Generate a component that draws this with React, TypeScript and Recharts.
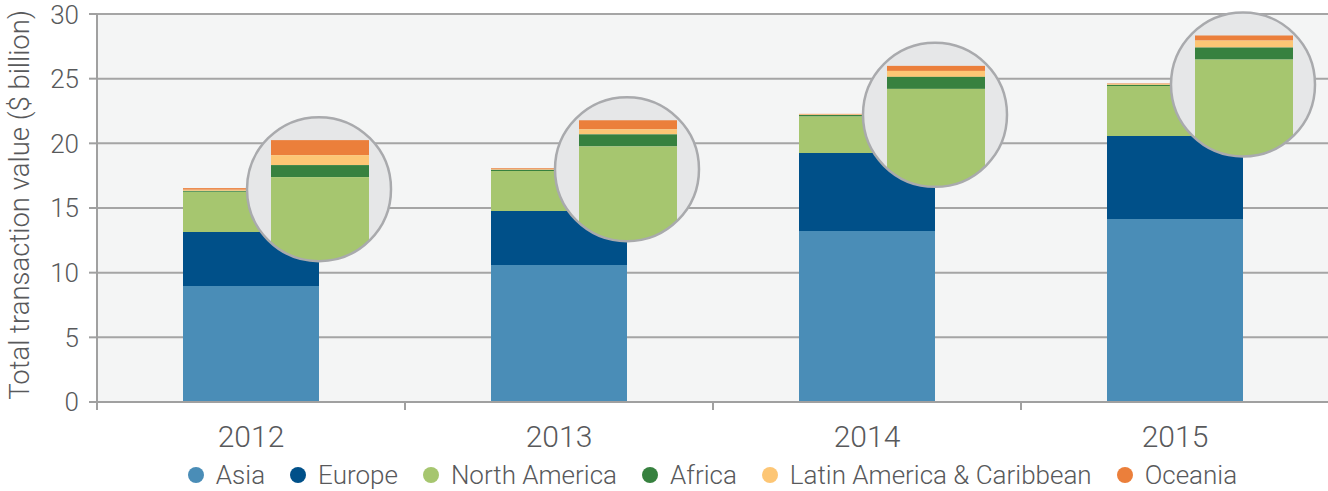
import React from "react";
import { BarChart, Bar, XAxis, YAxis, CartesianGrid, Legend } from "recharts";

const years = ["2012", "2013", "2014", "2015"];
const asia = [8.97, 10.6, 13.22, 14.15];
const europe = [4.18, 4.17, 6.04, 6.42];
const northAmerica = [3.1, 3.1, 2.84, 3.87];
const africa = [0.093, 0.093, 0.093, 0.093];
const latinAmerica = [0.077, 0.039, 0.046, 0.054];
const oceania = [0.116, 0.07, 0.039, 0.039];
const yTicks = [0, 5, 10, 15, 20, 25, 30];

const COLORS = {
  asia: "#4a8db7",
  europe: "#005089",
  na: "#a6c66f",
  africa: "#37813f",
  latin: "#fdc675",
  oceania: "#eb7f3b",
};

const seriesInfo = [
  { key: "asia", name: "Asia", color: COLORS.asia },
  { key: "europe", name: "Europe", color: COLORS.europe },
  { key: "na", name: "North America", color: COLORS.na },
  { key: "africa", name: "Africa", color: COLORS.africa },
  { key: "latin", name: "Latin America & Caribbean", color: COLORS.latin },
  { key: "oceania", name: "Oceania", color: COLORS.oceania },
];

const data = years.map((y, i) => ({
  year: y,
  asia: asia[i],
  europe: europe[i],
  na: northAmerica[i],
  africa: africa[i],
  latin: latinAmerica[i],
  oceania: oceania[i],
}));

const FONT = "Roboto, 'Liberation Sans', Arial, sans-serif";
const TEXT = "#58595b";
const MAG = 10;

const OceaniaShape = (props: any) => {
  const { x, y, width, height, payload, index } = props;
  const ppu = height / payload.oceania;
  const k = ppu * MAG;
  const cx = x + width / 2 + 68;
  const cy = y + 1;
  const r = 72;
  const mx = cx - 48;
  const mw = 98;
  const top = cy - 49;
  const hO = payload.oceania * k;
  const hL = payload.latin * k;
  const hA = payload.africa * k;
  const id = `mag-clip-${index}`;
  return (
    <g>
      <rect x={x} y={y} width={width} height={height} fill={COLORS.oceania} />
      <defs>
        <clipPath id={id}>
          <circle cx={cx} cy={cy} r={r} />
        </clipPath>
      </defs>
      <circle cx={cx} cy={cy} r={r} fill="#e6e7e8" />
      <g clipPath={`url(#${id})`}>
        <rect x={mx} y={top} width={mw} height={hO} fill={COLORS.oceania} />
        <rect x={mx} y={top + hO} width={mw} height={hL} fill={COLORS.latin} />
        <rect x={mx} y={top + hO + hL} width={mw} height={hA} fill={COLORS.africa} />
        <rect x={mx} y={top + hO + hL + hA} width={mw} height={200} fill={COLORS.na} />
      </g>
      <circle cx={cx} cy={cy} r={r} fill="none" stroke="#a9aaad" strokeWidth={2.5} />
    </g>
  );
};

const XTick = (props: any) => {
  const { x, y, payload } = props;
  const off = payload.offset || 0;
  return (
    <g>
      <line x1={x - off} y1={y} x2={x - off} y2={y + 8} stroke="#a0a0a0" strokeWidth={2} />
      <text x={x} y={y + 45} textAnchor="middle" fill={TEXT} fontFamily={FONT} fontWeight={300} fontSize={30}>
        {payload.value}
      </text>
    </g>
  );
};

const LegendContent = () => (
  <div
    style={{
      display: "flex",
      justifyContent: "center",
      alignItems: "center",
      fontFamily: FONT,
      fontWeight: 300,
      fontSize: 26,
      lineHeight: "26px",
      color: TEXT,
      whiteSpace: "nowrap",
      height: 26,
      marginTop: 10,
    }}
  >
    {seriesInfo.map((s, i) => (
      <div
        key={s.key}
        style={{ display: "flex", alignItems: "center", marginRight: i === seriesInfo.length - 1 ? 0 : 25 }}
      >
        <span
          style={{
            display: "inline-block",
            width: 16,
            height: 16,
            borderRadius: 8,
            background: s.color,
            marginRight: 12,
          }}
        />
        <span>{s.name}</span>
      </div>
    ))}
  </div>
);

const YLabel = () => (
  <text
    x={29}
    y={205}
    transform="rotate(-90 29 205)"
    textAnchor="middle"
    fill={TEXT}
    fontFamily={FONT}
    fontWeight={300}
    fontSize={27.5}
  >
    Total transaction value ($ billion)
  </text>
);

export default function App() {
  return (
    <div style={{ position: "absolute", left: 0, top: 0, width: 1328, height: 491, overflow: "hidden", background: "#fff" }}>
      <BarChart
        width={1340}
        height={491}
        data={data}
        margin={{ top: 14, right: 11, bottom: 0, left: 0 }}
        barSize={136}
      >
        <CartesianGrid vertical={false} stroke="#a5a5a5" strokeWidth={2} fill="#f4f5f5" />
        <XAxis
          dataKey="year"
          tickLine={false}
          tickSize={0}
          tickMargin={0}
          axisLine={{ stroke: "#a0a0a0", strokeWidth: 2 }}
          tick={<XTick />}
          height={50}
          interval={0}
        />
        <YAxis
          domain={[0, 30]}
          ticks={yTicks}
          width={97}
          tickSize={8}
          tickMargin={10}
          axisLine={{ stroke: "#a0a0a0", strokeWidth: 2 }}
          tickLine={{ stroke: "#a0a0a0", strokeWidth: 2 }}
          tick={{ fill: TEXT, fontFamily: FONT, fontWeight: 300, fontSize: 26 }}
          label={<YLabel />}
        />
        <Legend
          verticalAlign="bottom"
          content={<LegendContent />}
          wrapperStyle={{ left: 97, width: 1231, bottom: 0, height: 39, overflow: "visible" }}
        />
        <Bar dataKey="asia" stackId="a" fill={COLORS.asia} isAnimationActive={false} />
        <Bar dataKey="europe" stackId="a" fill={COLORS.europe} isAnimationActive={false} />
        <Bar dataKey="na" stackId="a" fill={COLORS.na} isAnimationActive={false} />
        <Bar dataKey="africa" stackId="a" fill={COLORS.africa} isAnimationActive={false} />
        <Bar dataKey="latin" stackId="a" fill={COLORS.latin} isAnimationActive={false} />
        <Bar dataKey="oceania" stackId="a" fill={COLORS.oceania} isAnimationActive={false} shape={<OceaniaShape />} />
      </BarChart>
    </div>
  );
}
